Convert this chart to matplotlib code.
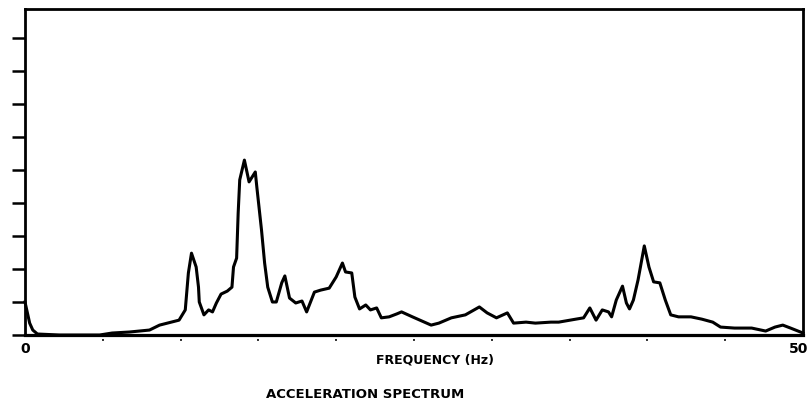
import matplotlib
matplotlib.use("Agg")
import matplotlib.pyplot as plt
from matplotlib.transforms import ScaledTranslation

# acceleration spectrum (frequency in Hz, amplitude in tick units)
freq = [0.0, 0.3, 0.5, 0.8, 2.2, 4.8, 5.6, 6.7, 8.0, 8.65, 9.9, 10.3, 10.5, 10.7,
        11.0, 11.15, 11.2, 11.5, 11.8, 12.05, 12.3, 12.6, 13.0, 13.3, 13.4, 13.6,
        13.7, 13.8, 14.1, 14.4, 14.8, 14.9, 15.2, 15.4, 15.6, 15.9, 16.15, 16.5,
        16.7, 17.0, 17.4, 17.8, 18.1, 18.6, 19.0, 19.55, 20.0, 20.4, 20.6, 21.0,
        21.2, 21.5, 21.9, 22.2, 22.6, 22.9, 23.4, 23.9, 24.2, 24.9, 26.1, 26.6,
        27.4, 28.3, 29.2, 29.7, 30.3, 31.0, 31.4, 32.2, 32.8, 33.8, 34.3, 35.4,
        35.9, 36.3, 36.7, 37.1, 37.5, 37.7, 38.0, 38.4, 38.65, 38.85, 39.1, 39.4,
        39.8, 40.1, 40.4, 40.8, 41.15, 41.5, 42.0, 42.8, 43.5, 44.2, 44.7, 45.6,
        46.7, 47.6, 48.2, 48.7, 49.2, 50.0]
amp = [1.0, 0.36, 0.15, 0.03, 0.0, 0.0, 0.06, 0.09, 0.15, 0.30, 0.45, 0.76, 1.88, 2.48,
       2.06, 1.45, 1.0, 0.61, 0.76, 0.70, 0.97, 1.24, 1.33, 1.45, 2.06, 2.33,
       3.70, 4.70, 5.30, 4.64, 4.94, 4.48, 3.18, 2.18, 1.45, 1.0, 1.0, 1.58,
       1.79, 1.12, 0.97, 1.03, 0.70, 1.30, 1.36, 1.42, 1.76, 2.18, 1.91, 1.88,
       1.15, 0.79, 0.91, 0.76, 0.82, 0.52, 0.55, 0.64, 0.70, 0.55, 0.30, 0.36,
       0.52, 0.61, 0.85, 0.67, 0.52, 0.67, 0.36, 0.39, 0.36, 0.39, 0.39, 0.48,
       0.52, 0.82, 0.45, 0.76, 0.70, 0.55, 1.06, 1.48, 0.97, 0.79, 1.06, 1.67,
       2.70, 2.06, 1.61, 1.58, 1.06, 0.61, 0.55, 0.55, 0.48, 0.39, 0.24, 0.21,
       0.21, 0.12, 0.24, 0.30, 0.21, 0.06]

x_major = [0, 50]
x_major_labels = ["0", "50"]
x_minor = [5, 10, 15, 20, 25, 30, 35, 40, 45]
y_ticks = list(range(10))

W, H = 812, 412
fig = plt.figure(figsize=(W / 100, H / 100), dpi=100)
ax = fig.add_axes([25 / W, (H - 335) / H, 778 / W, 326 / H])

ax.plot(freq, amp, color="black", lw=2.2, solid_joinstyle="round", clip_on=False)

ax.set_xlim(0, 50)
ax.set_ylim(0, 326 / 33)

for s in ax.spines.values():
    s.set_linewidth(2.0)
ax.spines["bottom"].set_linewidth(2.3)

ax.set_yticks(y_ticks)
ax.set_yticklabels([])
ax.tick_params(axis="y", direction="out", length=9.5, width=1.8)

ax.set_xticks(x_major)
ax.set_xticklabels(x_major_labels, fontsize=10, fontweight="bold")
ax.set_xticks(x_minor, minor=True)
ax.set_xticklabels(["•"] * len(x_minor), minor=True, fontsize=5)
ax.tick_params(axis="x", which="major", length=0, pad=5)
ax.tick_params(axis="x", which="minor", length=0, pad=2)
# nudge the "50" a touch left so it stays inside the canvas
lab50 = ax.get_xticklabels()[-1]
lab50.set_transform(lab50.get_transform() + ScaledTranslation(-3 / 72, 0, fig.dpi_scale_trans))

fig.text(435 / W, 1 - 360 / H, "FREQUENCY (Hz)", ha="center", va="center",
         fontsize=9, fontweight="bold")
fig.text(365 / W, 1 - 395 / H, "ACCELERATION SPECTRUM", ha="center", va="center",
         fontsize=9.5, fontweight="bold")

fig.savefig("out.png", dpi=100)
